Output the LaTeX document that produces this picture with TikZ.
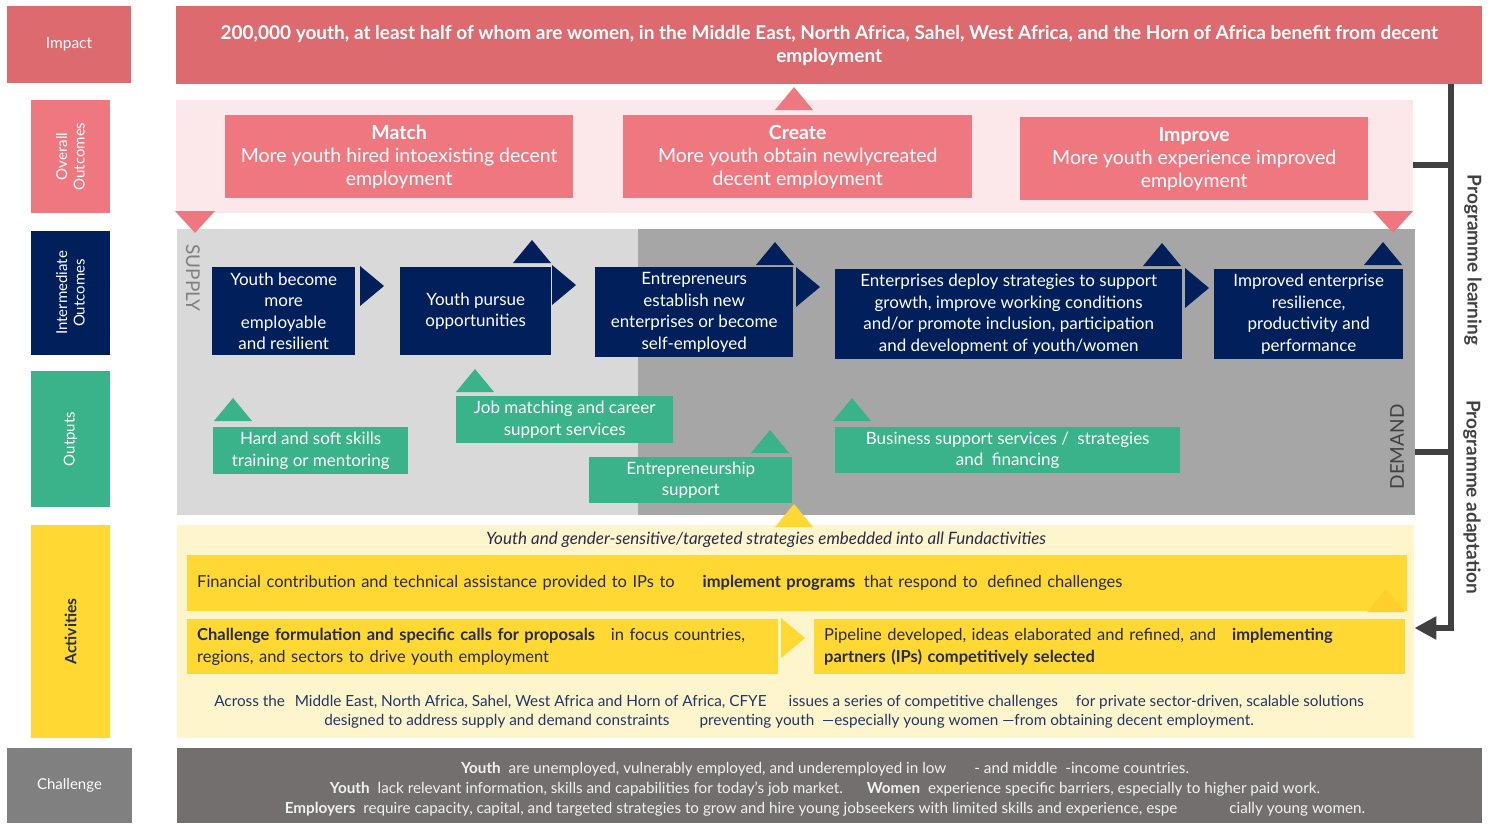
\documentclass[tikz,border=0pt]{standalone}
\usepackage{fontspec}
\setmainfont{Lato}
\usepackage{tikz}
\usetikzlibrary{positioning,calc,arrows.meta}
\definecolor{impactred}{RGB}{220,106,111}
\definecolor{pinkbox}{RGB}{239,120,128}
\definecolor{pinkbg}{RGB}{252,232,235}
\definecolor{navy}{RGB}{0,31,91}
\definecolor{outgreen}{RGB}{58,178,138}
\definecolor{supplybg}{RGB}{217,217,217}
\definecolor{demandbg}{RGB}{166,166,166}
\definecolor{actyellow}{RGB}{255,216,51}
\definecolor{actbg}{RGB}{255,245,204}
\definecolor{chalbar}{RGB}{115,111,111}
\definecolor{challabel}{RGB}{128,128,128}
\definecolor{darkline}{RGB}{64,64,64}
\definecolor{actext}{RGB}{40,44,72}
\definecolor{acrosstext}{RGB}{31,55,105}
\tikzset{LABEL/.style={rectangle, inner sep=0pt, align=center, text=white, font=\fontsize{15}{17.5}\selectfont}}
\tikzset{BAND/.style={rectangle, inner sep=0pt, anchor=north west}}
\tikzset{OUTCOME/.style={BAND, fill=pinkbox, align=center, text=white, minimum height=83, font=\fontsize{19.5}{23}\selectfont}}
\tikzset{INTER/.style={BAND, fill=navy, align=center, text=white, font=\fontsize{17}{21.5}\selectfont}}
\tikzset{OUTPUT/.style={BAND, fill=outgreen, align=center, text=white, minimum height=47, font=\fontsize{17}{21.5}\selectfont}}
\tikzset{ACTIVITY/.style={BAND, fill=actyellow, align=left, inner xsep=10pt, minimum height=55, text=actext, font=\fontsize{16.5}{22}\selectfont}}
\tikzset{FEEDBACK/.style={draw=darkline, line width=6pt}}
\tikzset{SIDETEXT/.style={inner sep=0pt, text=darkline, font=\fontsize{19}{21}\selectfont\bfseries}}
% small arrowheads between the boxes
\newcommand{\TRIUP}[3]{\fill[#3] ({#1-19},{#2}) -- ({#1+19},{#2}) -- ({#1},{#2-23}) -- cycle;}
\newcommand{\TRIDN}[3]{\fill[#3] ({#1-20},{#2}) -- ({#1+20},{#2}) -- ({#1},{#2+22}) -- cycle;}
\newcommand{\TRIRT}[3]{\fill[#3] ({#1},{#2-20}) -- ({#1},{#2+20}) -- ({#1+24},{#2}) -- cycle;}

\begin{document}
\begin{tikzpicture}[x=1pt,y=-1pt]
    \useasboundingbox (0,0) rectangle (1493,823);

    % row labels
    \node[LABEL, fill=impactred, minimum width=124, minimum height=77, font=\fontsize{15.5}{18}\selectfont] (l_impact) at (69,44.5) {Impact};
    \node[LABEL, fill=pinkbox, rotate=90, minimum width=113, minimum height=79] (l_overall) at (70.5,156.5) {Overall\\Outcomes};
    \node[LABEL, fill=navy, rotate=90, minimum width=124, minimum height=79] (l_inter) at (70.5,293) {Intermediate\\Outcomes};
    \node[LABEL, fill=outgreen, rotate=90, minimum width=136, minimum height=79] (l_outputs) at (70.5,439) {Outputs};
    \node[LABEL, fill=actyellow, text=actext, rotate=90, minimum width=213, minimum height=79, font=\fontsize{15.7}{18}\selectfont\bfseries] (l_activities) at (70.5,631.5) {Activities};
    \node[LABEL, fill=challabel, minimum width=125, minimum height=75] (l_challenge) at (69.5,785.5) {Challenge};

    % background bands
    \node[BAND, fill=impactred, minimum width=1306, minimum height=78, align=center, text=white, font=\fontsize{19}{23}\selectfont\bfseries] (n_impact) at (176,6)
        {200,000 youth, at least half of whom are women, in the Middle East, North Africa, Sahel, West Africa, and the Horn of Africa benefit from decent\\employment};
    \node[BAND, fill=pinkbg, minimum width=1237, minimum height=113] (n_pink) at (176,100) {};
    \node[BAND, fill=supplybg, minimum width=461, minimum height=286] (n_supply) at (177,229) {};
    \node[BAND, fill=demandbg, minimum width=777, minimum height=286] (n_demand) at (638,229) {};
    \node[BAND, fill=actbg, minimum width=1237, minimum height=213] (n_actbg) at (177,525) {};
    \node[BAND, fill=chalbar, minimum width=1305, minimum height=75] (n_challenge) at (177,748) {};
    \node[inner sep=0pt, align=center, text=white!95!black, font=\fontsize{15.25}{20}\selectfont] (n_chaltext) at (825,789)
        {\textbf{Youth}\hspace{4pt} are unemployed, vulnerably employed, and underemployed in low\hspace{28pt}- and middle\hspace{4pt} -income countries.\\
         \textbf{Youth}\hspace{4pt} lack relevant information, skills and capabilities for today’s job market.\hspace{24pt}\textbf{Women}\hspace{4pt} experience specific barriers, especially to higher paid work.\\
         \textbf{Employers}\hspace{4pt} require capacity, capital, and targeted strategies to grow and hire young jobseekers with limited skills and experience, espe\hspace{52pt}cially young women.};

    \node[inner sep=0pt, rotate=-90, text=challabel, font=\fontsize{19}{21}\selectfont] (n_supplylbl) at (193,278) {SUPPLY};
    \node[inner sep=0pt, rotate=90, text=darkline, font=\fontsize{19}{21}\selectfont] (n_demandlbl) at (1397,447) {DEMAND};

    % overall outcomes
    \node[OUTCOME, minimum width=348] (n_match) at (225,115) {\textbf{Match}\\More youth hired intoexisting decent\\employment};
    \node[OUTCOME, minimum width=349] (n_create) at (623,115) {\textbf{Create}\\More youth obtain newlycreated\\decent employment};
    \node[OUTCOME, minimum width=348] (n_improve) at (1020,117) {\textbf{Improve}\\More youth experience improved\\employment};

    % intermediate outcomes
    \node[INTER, minimum width=143, minimum height=88] (n_employ) at (212,267) {Youth become\\more\\employable\\and resilient};
    \node[INTER, minimum width=151, minimum height=88] (n_pursue) at (400,267) {Youth pursue\\opportunities};
    \node[INTER, minimum width=198, minimum height=90] (n_entre) at (595,267) {Entrepreneurs\\establish new\\enterprises or become\\self-employed};
    \node[INTER, minimum width=347, minimum height=90] (n_deploy) at (835,269) {Enterprises deploy strategies to support\\growth, improve working conditions\\and/or promote inclusion, participation\\and development of youth/women};
    \node[INTER, minimum width=189, minimum height=90] (n_resil) at (1214,269) {Improved enterprise\\resilience,\\productivity and\\performance};

    % outputs
    \node[OUTPUT, minimum width=195] (n_skills) at (213,427) {Hard and soft skills\\training or mentoring};
    \node[OUTPUT, minimum width=217] (n_jobmatch) at (456,396) {Job matching and career\\support services};
    \node[OUTPUT, minimum width=203, minimum height=46] (n_entsupp) at (589,457) {Entrepreneurship\\support};
    \node[OUTPUT, minimum width=345, minimum height=46] (n_bizsupp) at (835,427) {Business support services /\hspace{4pt} strategies\\and\hspace{4pt} financing};

    % activities
    \node[inner sep=0pt, text=actext, font=\fontsize{17}{19}\selectfont\itshape] (n_header) at (766,540) {Youth and gender-sensitive/targeted strategies embedded into all Fundactivities};
    \node[ACTIVITY, text width=1200, minimum height=56] (n_fin) at (187,555)
        {Financial contribution and technical assistance provided to IPs to\hspace{28pt}\textbf{implement programs}\hspace{3pt} that respond to\hspace{4pt} defined challenges};
    \node[ACTIVITY, text width=571] (n_chal) at (187,619)
        {\textbf{Challenge formulation and specific calls for proposals}\hspace{16pt}in focus countries,\\regions, and sectors to drive youth employment};
    \node[ACTIVITY, text width=571] (n_pipe) at (814,619)
        {Pipeline developed, ideas elaborated and refined, and\hspace{16pt}\textbf{implementing}\\\textbf{partners (IPs) competitively selected}};
    \node[inner sep=0pt, align=center, text=acrosstext, font=\fontsize{15.3}{19}\selectfont] (n_across) at (789,712)
        {Across the\hspace{6pt} Middle East, North Africa, Sahel, West Africa and Horn of Africa, CFYE\hspace{22pt}issues a series of competitive challenges\hspace{18pt}for private sector-driven, scalable solutions\\
         designed to address supply and demand constraints\hspace{30pt}preventing youth\hspace{4pt} —especially young women —from obtaining decent employment.};

    % arrowheads
    \TRIUP{794}{110}{pinkbox}
    \TRIDN{195}{211}{pinkbox}
    \TRIDN{1393}{211}{pinkbox}
    \TRIRT{360}{286}{navy}
    \TRIRT{552}{285}{navy}
    \TRIRT{796}{287}{navy}
    \TRIRT{1185}{288}{navy}
    \TRIUP{532}{263}{navy}
    \TRIUP{775}{265}{navy}
    \TRIUP{1162}{266}{navy}
    \TRIUP{1383}{265}{navy}
    \TRIUP{233}{421}{outgreen}
    \TRIUP{475}{392}{outgreen}
    \TRIUP{770}{453}{outgreen}
    \TRIUP{852}{421}{outgreen}
    \TRIUP{794}{527}{actyellow}
    \TRIUP{1386}{612}{actyellow!90!orange}
    \TRIRT{781}{638}{actyellow}

    % learning and adaptation loop
    \coordinate (fb_top) at (n_impact.south -| 1451,0);
    \coordinate (fb_turn) at (1451,628);
    \draw[FEEDBACK, -{Triangle[width=22pt,length=22pt]}] (fb_top) -- (fb_turn) -- (n_actbg.east |- fb_turn);
    \draw[FEEDBACK] (n_pink.east |- 0,165) -- (1451,165);
    \draw[FEEDBACK] (n_demand.east |- 0,452) -- (1451,452);
    \node[SIDETEXT, rotate=-90] (n_learning) at (1473,260) {Programme learning};
    \node[SIDETEXT, rotate=-90] (n_adaptation) at (1472,497) {Programme adaptation};

\end{tikzpicture}
\end{document}
